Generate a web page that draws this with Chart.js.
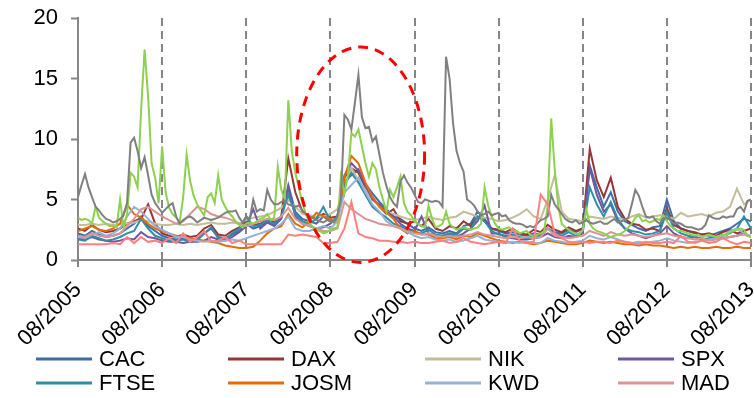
<!DOCTYPE html>
<html>
<head>
<meta charset="utf-8">
<script src="https://cdn.jsdelivr.net/npm/chart.js@4.4.1/dist/chart.umd.min.js"></script>
<style>
  html, body { margin: 0; padding: 0; background: #fff; }
  canvas { display: block; }
</style>
</head>
<body>
<canvas id="volChart" width="754" height="398"></canvas>
<script>
// x runs in years from 08/2005, one label per year
const yearLabels = ['08/2005', '08/2006', '08/2007', '08/2008', '08/2009', '08/2010', '08/2011', '08/2012', '08/2013'];
const yTicks = [0, 5, 10, 15, 20];

// half-monthly series (193 points over 8 years)
const grayVals = [
  5.2, 6.2, 7.1, 6.0, 5.2, 4.4, 4.1, 3.7, 3.4, 3.3,
  3.1, 3.2, 3.4, 3.7, 4.7, 9.7, 10.1, 9.0, 7.6, 8.5,
  7.0, 5.4, 4.7, 4.3, 3.9, 4.2, 4.5, 4.7, 3.6, 3.0,
  3.3, 3.5, 3.6, 3.4, 3.1, 3.3, 3.5, 3.4, 3.3, 3.4,
  3.5, 3.7, 3.9, 4.0, 4.0, 4.1, 3.5, 3.1, 3.6, 3.4,
  5.0, 4.0, 4.2, 4.1, 5.8, 5.0, 4.6, 4.6, 4.8, 4.9,
  4.6, 4.5, 4.4, 4.5, 4.1, 3.8, 3.6, 3.5, 3.3, 3.2,
  3.1, 3.3, 3.2, 3.1, 3.6, 5.0, 12.0, 11.6, 10.8, 13.0,
  15.3, 11.8, 10.9, 11.0, 9.8, 10.2, 8.7, 7.2, 6.1, 5.2,
  4.7, 4.4, 6.5, 7.0, 6.4, 6.0, 5.4, 4.8, 4.7, 5.0,
  4.9, 4.8, 4.9, 4.8, 4.4, 16.8, 15.0, 11.3, 9.0, 8.0,
  7.3, 5.0, 4.8, 4.5, 4.0, 3.7, 3.8, 4.0, 3.7, 3.8,
  3.9, 3.6, 3.7, 3.3, 3.1, 3.0, 3.0, 2.9, 2.7, 2.8,
  2.7, 3.0, 3.3, 3.4, 3.6, 5.4, 4.6, 4.2, 3.8, 3.4,
  3.2, 3.1, 3.3, 3.0, 3.1, 3.3, 3.1, 3.0, 3.1, 3.2,
  3.0, 3.0, 3.2, 3.4, 3.1, 3.2, 3.3, 3.5, 4.6, 5.8,
  5.3, 4.4, 3.6, 3.5, 3.6, 3.2, 3.0, 3.4, 3.5, 3.3,
  3.0, 3.1, 3.0, 2.8, 2.7, 2.7, 2.6, 2.5, 2.6, 2.9,
  3.7, 3.5, 3.4, 3.4, 3.6, 3.5, 3.6, 3.6, 4.2, 4.4,
  4.0, 4.9, 5.0
];
const greenVals = [
  3.5, 3.3, 3.4, 3.3, 3.0, 4.4, 3.5, 3.2, 3.0, 2.8,
  2.8, 2.7, 5.0, 2.7, 3.8, 7.2, 6.9, 6.0, 12.4, 17.4,
  13.5, 8.0, 6.8, 4.7, 9.4, 5.6, 4.3, 3.8, 3.5, 3.1,
  5.2, 8.7, 6.5, 5.3, 4.6, 4.1, 3.7, 5.2, 5.5, 4.7,
  7.0, 5.0, 4.4, 3.9, 3.6, 3.2, 2.9, 2.7, 3.0, 3.1,
  3.0, 3.2, 3.4, 3.5, 3.8, 3.3, 3.5, 7.7, 5.8, 5.0,
  13.2, 9.0, 7.2, 6.0, 4.7, 3.8, 3.1, 2.7, 2.5, 2.4,
  2.2, 2.3, 2.5, 2.6, 2.7, 6.9, 5.5, 7.0, 10.5, 10.2,
  10.8, 9.4, 8.0, 6.9, 8.0, 7.5, 6.0, 5.0, 4.0, 5.8,
  5.2, 6.0, 6.9, 4.7, 4.0, 3.7, 3.2, 3.0, 2.8, 2.7,
  4.5, 3.4, 2.7, 2.8, 3.0, 4.0, 3.0, 2.7, 2.5, 2.6,
  2.7, 2.6, 2.5, 2.6, 2.7, 3.0, 6.0, 4.5, 3.6, 3.0,
  2.6, 2.5, 2.6, 2.7, 2.5, 2.4, 2.2, 2.3, 2.4, 2.1,
  1.9, 2.1, 2.2, 2.4, 4.5, 11.7, 7.5, 4.5, 3.0, 2.7,
  2.5, 2.3, 2.2, 2.1, 2.5, 4.2, 3.0, 2.6, 2.4, 2.3,
  2.2, 2.0, 1.9, 2.0, 2.1, 2.2, 2.4, 2.7, 3.0, 3.5,
  3.7, 3.2, 3.3, 3.1, 3.2, 3.4, 3.3, 3.7, 3.2, 2.8,
  2.6, 2.4, 2.4, 2.3, 2.2, 2.1, 2.0, 2.1, 1.9, 2.0,
  2.1, 2.0, 1.9, 2.0, 2.1, 2.0, 2.3, 2.4, 2.5, 2.6,
  2.5, 2.0, 1.9
];

// monthly series (97 points, 08/2005 .. 08/2013)
const cacVals = [
  2.2, 2.0, 2.4, 2.1, 1.9, 2.0, 2.2, 2.6, 3.0, 3.6, 2.8, 2.4,
  2.0, 1.8, 1.7, 1.8, 1.6, 1.7, 2.2, 2.6, 1.9, 1.8, 2.1, 2.4,
  3.0, 2.6, 2.8, 3.2, 2.9, 3.5, 6.2, 4.0, 3.4, 3.2, 3.0, 3.6,
  3.2, 3.4, 6.5, 7.0, 7.5, 6.3, 5.5, 4.8, 4.2, 3.6, 3.4, 3.0,
  2.6, 2.4, 2.7, 2.3, 2.2, 2.4, 2.2, 2.8, 3.0, 4.0, 3.4, 2.6,
  2.4, 2.2, 2.3, 2.1, 2.0, 2.2, 2.1, 2.6, 2.3, 2.2, 2.5, 2.3,
  2.6, 7.8, 6.0, 4.4, 5.6, 4.0, 3.2, 2.9, 2.6, 2.4, 2.7, 2.8,
  5.0, 3.2, 2.6, 2.4, 2.2, 2.1, 2.0, 2.2, 2.4, 2.6, 3.0, 3.4, 3.2
];
const daxVals = [
  2.6, 2.4, 2.9, 2.5, 2.3, 2.4, 2.6, 3.0, 3.2, 3.4, 4.6, 3.0,
  2.2, 2.0, 1.9, 2.1, 1.9, 2.0, 2.6, 2.9, 2.1, 2.0, 2.4, 2.7,
  3.2, 2.9, 3.0, 3.4, 3.1, 3.6, 8.4, 5.6, 4.0, 3.6, 3.4, 3.8,
  3.5, 3.6, 6.8, 7.6, 7.2, 6.0, 5.2, 4.4, 3.8, 4.2, 3.2, 3.0,
  3.2, 2.8, 3.4, 2.6, 2.4, 2.8, 2.6, 3.2, 2.8, 3.6, 3.2, 2.6,
  2.5, 2.3, 2.6, 2.2, 2.1, 2.5, 2.3, 2.9, 2.5, 2.3, 2.7, 2.4,
  2.6, 9.2, 6.6, 5.2, 6.8, 4.4, 3.4, 3.0, 2.9, 2.5, 2.6, 2.4,
  4.3, 2.9, 2.6, 2.4, 2.3, 2.1, 2.2, 2.0, 2.3, 2.5, 2.2, 2.4, 2.6
];
const nikVals = [
  2.9, 2.9, 3.0, 2.9, 3.0, 2.9, 3.0, 3.0, 3.1, 3.3, 3.2, 3.0,
  2.9, 2.9, 3.0, 2.9, 3.0, 2.9, 3.0, 3.1, 3.0, 3.0, 3.1, 3.0,
  3.3, 3.5, 3.6, 3.7, 4.0, 4.3, 5.0, 4.4, 3.8, 3.7, 3.6, 3.6,
  3.8, 4.2, 6.2, 7.6, 6.6, 5.8, 5.0, 4.4, 4.0, 3.8, 3.6, 3.4,
  3.3, 3.4, 3.6, 3.4, 3.3, 3.5, 3.6, 4.0, 3.8, 3.6, 3.5, 3.4,
  3.2, 3.3, 3.5, 3.8, 4.2, 3.6, 3.4, 5.0, 7.0, 4.0, 3.4, 3.3,
  3.2, 3.6, 3.5, 3.4, 3.6, 3.5, 3.3, 3.6, 3.8, 3.5, 3.6, 3.7,
  3.6, 3.4, 3.9, 3.6, 3.7, 3.8, 3.6, 3.9, 4.0, 4.4, 5.9, 4.6, 5.0
];
const spxVals = [
  1.8, 1.7, 1.9, 1.7, 1.6, 1.5, 1.6, 1.8, 1.7, 2.3, 1.9, 1.8,
  1.6, 1.5, 1.5, 1.4, 1.5, 1.5, 1.6, 1.9, 1.7, 1.6, 1.9, 2.3,
  2.8, 4.2, 2.6, 3.1, 2.8, 3.4, 6.0, 3.6, 3.0, 2.8, 2.6, 2.7,
  3.0, 3.6, 7.0, 8.0, 7.4, 6.2, 5.0, 4.6, 4.0, 3.6, 3.0, 2.6,
  2.4, 3.6, 2.2, 2.0, 1.9, 2.1, 1.9, 2.2, 2.6, 3.2, 4.5, 2.2,
  2.2, 1.9, 1.8, 1.7, 1.7, 1.8, 1.9, 2.2, 1.9, 1.8, 2.0, 1.9,
  2.2, 7.6, 5.4, 4.0, 4.6, 3.2, 2.6, 2.2, 2.0, 1.8, 2.0, 2.2,
  2.8, 2.2, 1.9, 1.8, 1.9, 1.7, 1.8, 2.0, 1.8, 1.9, 2.0, 2.2, 1.9
];
const ftseVals = [
  1.7, 1.6, 2.0, 1.8, 1.6, 1.7, 1.9, 2.2, 2.4, 3.4, 2.6, 2.0,
  1.8, 1.6, 1.6, 1.7, 1.5, 1.6, 2.2, 2.7, 1.8, 1.7, 2.2, 2.6,
  3.6, 2.8, 2.9, 3.3, 3.0, 3.6, 5.4, 3.8, 3.2, 3.0, 3.4, 4.4,
  3.2, 3.5, 6.2, 7.2, 6.4, 5.4, 4.4, 3.9, 3.5, 3.0, 2.8, 2.5,
  2.3, 2.2, 2.5, 2.1, 2.0, 2.2, 2.1, 2.6, 2.5, 3.6, 3.2, 2.4,
  2.1, 2.0, 2.1, 1.9, 1.8, 2.0, 2.0, 2.6, 2.2, 2.0, 2.3, 2.0,
  2.4, 6.0, 4.6, 3.6, 4.8, 3.4, 2.6, 2.4, 2.3, 2.1, 2.2, 2.4,
  4.0, 2.6, 2.2, 2.0, 1.9, 1.8, 1.7, 1.9, 2.0, 2.2, 2.6, 3.6, 2.6
];
const josmVals = [
  2.4, 2.6, 2.8, 2.5, 2.4, 2.6, 3.0, 4.6, 3.8, 3.5, 3.0, 2.6,
  2.4, 2.2, 2.0, 1.9, 1.8, 1.7, 1.6, 1.5, 1.4, 1.2, 1.1, 1.0,
  1.0, 1.1, 1.6, 2.2, 2.6, 2.8, 3.8, 3.0, 2.7, 3.2, 3.9, 3.6,
  3.4, 3.2, 6.8, 8.6, 8.0, 6.4, 5.2, 4.4, 3.9, 3.4, 2.6, 2.2,
  2.4, 2.1, 2.1, 1.8, 1.8, 1.9, 1.7, 2.0, 1.9, 2.2, 2.0, 1.8,
  1.6, 1.5, 1.4, 1.5, 1.4, 1.3, 1.4, 1.6, 1.5, 1.4, 1.3, 1.3,
  1.4, 1.6, 1.5, 1.4, 1.5, 1.4, 1.3, 1.3, 1.2, 1.3, 1.2, 1.2,
  1.1, 1.0, 1.1, 1.0, 1.1, 1.0, 1.0, 1.1, 1.0, 1.0, 1.1, 1.0, 1.0
];
const kwdVals = [
  1.9, 1.8, 2.1, 2.3, 2.0, 2.2, 2.6, 3.6, 4.4, 4.0, 3.4, 2.8,
  2.5, 2.2, 1.9, 1.9, 1.7, 1.6, 1.5, 1.6, 1.5, 1.6, 1.7, 1.6,
  1.8, 2.0, 2.2, 2.4, 2.6, 3.0, 3.6, 2.6, 2.4, 2.4, 2.6, 2.8,
  2.6, 3.2, 5.6, 6.2, 6.8, 5.6, 4.6, 4.0, 3.2, 2.8, 2.6, 2.3,
  2.0, 1.8, 1.9, 1.7, 1.6, 1.7, 1.5, 1.6, 1.8, 2.0, 1.7, 1.6,
  1.5, 1.4, 1.5, 1.4, 1.5, 1.4, 1.4, 1.8, 1.6, 1.5, 1.4, 1.5,
  1.6, 2.0, 1.8, 1.7, 1.9, 1.7, 1.5, 1.4, 1.5, 1.4, 1.5, 1.6,
  1.8, 1.6, 1.5, 1.4, 1.5, 1.6, 1.7, 1.8, 2.0, 2.4, 2.6, 2.2, 2.0
];
const madVals = [
  2.0, 1.9, 2.2, 2.0, 1.9, 2.0, 2.2, 2.8, 3.4, 4.2, 4.4, 4.0,
  3.6, 3.3, 3.0, 3.2, 3.8, 4.4, 4.2, 3.8, 3.6, 3.5, 3.3, 3.0,
  2.8, 3.0, 3.2, 3.4, 3.3, 3.6, 4.3, 3.4, 3.0, 2.8, 2.6, 2.4,
  2.4, 2.6, 4.8, 4.2, 3.8, 3.4, 3.2, 3.0, 2.9, 2.8, 2.6, 2.4,
  2.2, 2.1, 2.2, 2.0, 1.9, 2.0, 1.9, 2.0, 2.1, 2.3, 2.1, 2.0,
  1.9, 1.8, 1.9, 1.8, 1.9, 1.8, 1.9, 2.6, 2.0, 1.9, 1.8, 1.9,
  2.0, 2.4, 2.2, 2.0, 2.3, 2.1, 2.0, 2.1, 2.0, 1.9, 2.0, 2.1,
  2.2, 2.0, 1.9, 1.8, 1.7, 1.8, 1.6, 1.7, 1.8, 1.9, 2.0, 2.1, 1.9
];
const salmonVals = [
  1.3, 1.3, 1.3, 1.3, 1.3, 1.4, 1.3, 1.9, 1.4, 1.9, 1.5, 1.6,
  1.4, 1.8, 1.4, 2.2, 1.5, 1.9, 2.4, 1.5, 1.6, 1.9, 1.4, 1.6,
  1.3, 1.3, 1.3, 1.3, 1.3, 1.3, 2.1, 2.0, 2.1, 2.0, 1.9, 1.4,
  1.4, 1.5, 2.6, 4.8, 2.2, 1.9, 1.8, 1.6, 1.6, 1.5, 1.5, 1.4,
  1.5, 1.4, 1.4, 1.5, 1.6, 1.4, 1.5, 1.8, 1.5, 1.4, 1.3, 1.4,
  1.5, 1.4, 2.6, 1.6, 1.4, 1.5, 5.4, 4.6, 2.2, 1.8, 1.5, 1.4,
  1.5, 1.4, 1.5, 1.5, 1.4, 1.6, 1.5, 1.4, 1.3, 1.5, 1.4, 1.4,
  1.5, 1.4, 2.0, 1.5, 1.4, 1.6, 1.4, 1.5, 1.8, 1.5, 1.3, 1.5, 1.4
];

// dashed ring around the 2008 crisis, in data units (years, value)
const crisisRing = { x: 3.36, y: 8.7, rx: 0.76, ry: 8.9 };

const series = [
  { label: 'CAC', values: cacVals, color: '#3E6DA9' },
  { label: 'DAX', values: daxVals, color: '#953735' },
  { label: 'NIK', values: nikVals, color: '#C4BD97' },
  { label: 'SPX', values: spxVals, color: '#7356A0' },
  { label: 'FTSE', values: ftseVals, color: '#2F8DAA' },
  { label: 'JOSM', values: josmVals, color: '#E46C0A' },
  { label: 'KWD', values: kwdVals, color: '#95B3D7' },
  { label: 'MAD', values: madVals, color: '#D99694' },
  { label: '', values: greenVals, color: '#8DD14F' },
  { label: '', values: grayVals, color: '#808080' },
  { label: '', values: salmonVals, color: '#FF8080' }
];

const toPoints = vals => vals.map((y, i) => ({ x: i * 8 / (vals.length - 1), y }));

const FONT = "'Liberation Sans', Arial, sans-serif";
const AXIS_GRAY = '#868686';

// ellipse drawn in data space after the lines
const ringPlugin = {
  id: 'ring',
  afterDatasetsDraw(chart) {
    const { ctx, scales: { x, y } } = chart;
    const cx = x.getPixelForValue(crisisRing.x);
    const cy = y.getPixelForValue(crisisRing.y);
    const rx = x.getPixelForValue(crisisRing.x + crisisRing.rx) - cx;
    const ry = cy - y.getPixelForValue(crisisRing.y + crisisRing.ry);
    ctx.save();
    ctx.strokeStyle = '#FF0000';
    ctx.lineWidth = 3;
    ctx.setLineDash([10, 7]);
    ctx.beginPath();
    ctx.ellipse(cx, cy, rx, ry, 0, 0, Math.PI * 2);
    ctx.stroke();
    ctx.restore();
  }
};

// 4-column legend under the axis labels
const gridLegend = {
  id: 'gridLegend',
  afterDraw(chart) {
    const { ctx } = chart;
    const cols = [36, 228, 425, 618];
    const rows = [359, 383];
    const items = chart.data.datasets.filter(d => d.label);
    ctx.save();
    ctx.font = '22px ' + FONT;
    ctx.textBaseline = 'middle';
    ctx.fillStyle = '#000';
    items.forEach((d, i) => {
      const x = cols[i % 4];
      const y = rows[Math.floor(i / 4)];
      ctx.strokeStyle = d.borderColor;
      ctx.lineWidth = 3;
      ctx.beginPath();
      ctx.moveTo(x, y);
      ctx.lineTo(x + 56, y);
      ctx.stroke();
      ctx.fillText(d.label, x + 63, y + 1);
    });
    ctx.restore();
  }
};

new Chart(document.getElementById('volChart'), {
  type: 'line',
  data: {
    datasets: series.map((s, i) => ({
      label: s.label,
      data: toPoints(s.values),
      borderColor: s.color,
      backgroundColor: s.color,
      borderWidth: 2,
      pointRadius: 0,
      tension: 0,
      fill: false,
      order: -i
    }))
  },
  options: {
    responsive: false,
    animation: false,
    devicePixelRatio: 1,
    layout: { padding: { top: 18, right: 3, left: 0, bottom: 0 } },
    plugins: {
      legend: { display: false },
      tooltip: { enabled: false }
    },
    scales: {
      x: {
        type: 'linear',
        min: 0,
        max: 8,
        afterFit(s) { s.height = 138; s.paddingLeft = 0; s.paddingRight = 0; },
        grid: {
          color: c => (c.index === 0 ? 'rgba(0,0,0,0)' : AXIS_GRAY),
          lineWidth: 2,
          tickColor: AXIS_GRAY,
          tickLength: 7,
          tickWidth: 2,
          tickBorderDash: []
        },
        border: { color: AXIS_GRAY, width: 2, dash: [8, 5] },
        ticks: {
          stepSize: 1,
          minRotation: 45,
          maxRotation: 45,
          padding: 10,
          color: '#000',
          font: { family: FONT, size: 22 },
          callback: v => yearLabels[v]
        }
      },
      y: {
        min: yTicks[0],
        max: yTicks[yTicks.length - 1],
        afterFit(s) { s.width = 78; s.paddingTop = 0; s.paddingBottom = 0; },
        afterBuildTicks(s) { s.ticks = yTicks.map(v => ({ value: v })); },
        grid: {
          drawOnChartArea: false,
          tickColor: AXIS_GRAY,
          tickLength: 7,
          tickWidth: 2
        },
        border: { color: AXIS_GRAY, width: 2 },
        ticks: {
          padding: 13,
          color: '#000',
          font: { family: FONT, size: 22 }
        }
      }
    }
  },
  plugins: [ringPlugin, gridLegend]
});
</script>
</body>
</html>
